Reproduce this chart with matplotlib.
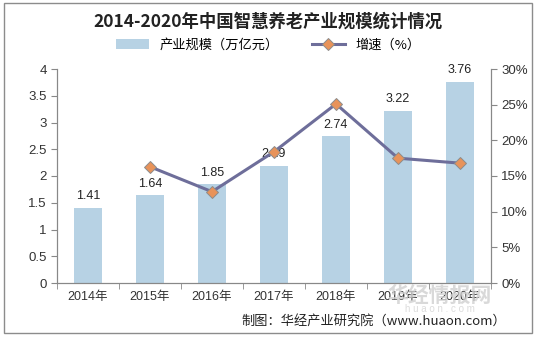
import matplotlib
matplotlib.use("Agg")
import matplotlib.pyplot as plt
from matplotlib.patches import Rectangle
from matplotlib.ticker import FuncFormatter, MultipleLocator
import numpy as np

plt.rcParams['font.family'] = ['Liberation Sans', 'Noto Sans CJK SC', 'DejaVu Sans']

years = ['2014年', '2015年', '2016年', '2017年', '2018年', '2019年', '2020年']
scale = [1.41, 1.64, 1.85, 2.19, 2.74, 3.22, 3.76]
growth_years = ['2015年', '2016年', '2017年', '2018年', '2019年', '2020年']
growth = [16.3, 12.8, 18.4, 25.1, 17.5, 16.8]

fig = plt.figure(figsize=(5.36, 3.37), dpi=100)
fig.patches.append(Rectangle((0.008, 0.012), 0.984, 0.978, transform=fig.transFigure,
                             fill=False, edgecolor='#8c8c8c', linewidth=1.0))
ax = fig.add_axes([57/536, 1-283/337, (491-57)/536, (283-69)/337])
ax2 = ax.twinx()

x = np.arange(len(years))
bars = ax.bar(x, scale, width=0.45, color='#B7D2E4', label='产业规模（万亿元）', zorder=1)
for xi, v in zip(x, scale):
    ax.text(xi, v + 0.1, f'{v:.2f}', ha='center', va='bottom', fontsize=9, color='#222222')

gx = [years.index(y) for y in growth_years]
ax2.plot(gx, growth, color='#6E6E9A', linewidth=2.2, marker='D', markersize=6,
         markerfacecolor='#E8935A', markeredgecolor='#8C8C8C', markeredgewidth=0.7,
         label='增速（%）', zorder=3)

ax.set_xlim(-0.5, len(years) - 0.5)
ax.set_ylim(0, 4)
ax.yaxis.set_major_locator(MultipleLocator(0.5))
ax.yaxis.set_major_formatter(FuncFormatter(lambda v, p: f'{v:g}'))
ax2.set_ylim(0, 30)
ax2.yaxis.set_major_locator(MultipleLocator(5))
ax2.yaxis.set_major_formatter(FuncFormatter(lambda v, p: f'{v:.0f}%'))

ax.set_xticks(x)
ax.set_xticklabels(years, fontsize=9)
ax.set_xticks(np.arange(-0.5, len(years)), minor=True)
ax.tick_params(axis='x', which='major', length=0, pad=6, colors='#333333')
ax.tick_params(axis='x', which='minor', length=4, color='#888888')
ax.tick_params(axis='y', length=4, color='#888888', labelsize=9.5, labelcolor='#333333')
ax2.tick_params(axis='y', length=4, color='#888888', labelsize=9.5, labelcolor='#333333')

for a in (ax, ax2):
    for s in ('top',):
        a.spines[s].set_visible(False)
    for s in ('left', 'right', 'bottom'):
        a.spines[s].set_color('#888888')
ax.set_zorder(ax2.get_zorder() - 1)
ax.patch.set_visible(False)
ax2.patch.set_visible(False)

fig.text(0.5, 1-22/337, '2014-2020年中国智慧养老产业规模统计情况', ha='center', va='center',
         fontsize=12.5, fontweight='bold', family=['Noto Sans CJK SC'], color='#222222')

h1, l1 = ax.get_legend_handles_labels()
h2, l2 = ax2.get_legend_handles_labels()
fig.legend(h1 + h2, l1 + l2, loc='center', bbox_to_anchor=(0.5, 1-45/337), ncol=2,
           frameon=False, fontsize=9.5, handlelength=2.5, columnspacing=2.5,
           prop={'family': ['Noto Sans CJK SC'], 'size': 9.5})

fig.text(440/536, 1-295/337, '华经情报网', ha='center', va='center', fontsize=15,
         fontweight='bold', color='#d0d0d0', family=['Noto Sans CJK SC'], alpha=0.8, zorder=0)
fig.text(440/536, 1-309/337, 'h u a o n . c o m', ha='center', va='center', fontsize=7,
         color='#dcdcdc', zorder=0)

fig.text(506/536, 1-321/337, '制图：华经产业研究院（www.huaon.com）', ha='right', va='center',
         fontsize=9.5, family=['Noto Sans CJK SC', 'DejaVu Sans'], color='#222222')

fig.savefig('out.png', dpi=100)
